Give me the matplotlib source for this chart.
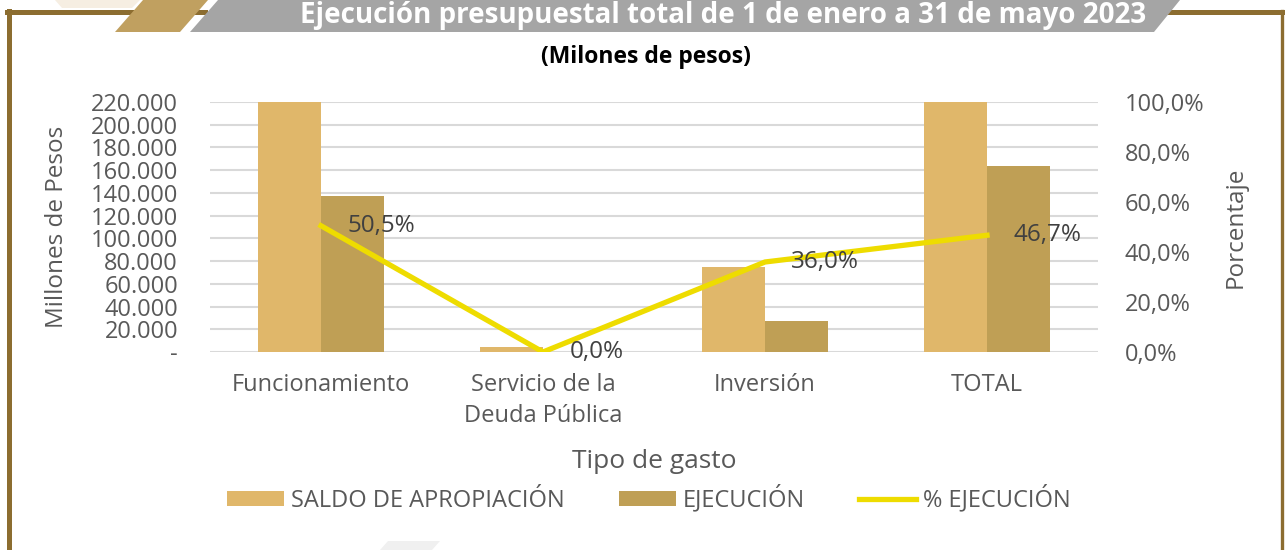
import matplotlib.pyplot as plt
import matplotlib.ticker as mticker
from matplotlib.patches import Polygon, Patch
from matplotlib.lines import Line2D

plt.rcParams['font.family'] = ['Open Sans', 'DejaVu Sans']

categorias = ['Funcionamiento', 'Servicio de la\nDeuda Pública', 'Inversión', 'TOTAL']
saldo_apropiacion = [271300, 4100, 75000, 350400]
ejecucion = [137000, 0, 26900, 164000]
pct_ejecucion = [0.505, 0.0, 0.360, 0.467]
pct_labels = ['50,5%', '0,0%', '36,0%', '46,7%']

C_SALDO = '#E0B76A'
C_EJEC = '#BF9F55'
C_LINE = '#EEDC00'
C_TEXT = '#595959'
C_FRAME = '#8C6D30'

W, H = 1285, 550
fig = plt.figure(figsize=(W / 100, H / 100), dpi=100)


def fx(x):
    return x / W


def fy(y):
    return 1 - y / H


def poly(pts, color, z=1):
    fig.add_artist(Polygon([(fx(a), fy(b)) for a, b in pts], closed=True,
                           transform=fig.transFigure, facecolor=color,
                           edgecolor='none', zorder=z))


# ── frame & banner decoration ──
for xs, ys, lw in [([9, 9], [11, 550], 3.6), ([7, 205], [12, 12], 3.6),
                   ([1165, 1283], [12, 12], 3.6), ([1282, 1282], [11, 550], 2.4)]:
    fig.add_artist(Line2D([fx(v) for v in xs], [fy(v) for v in ys],
                          transform=fig.transFigure, color=C_FRAME, lw=lw, zorder=1))
poly([(55, 0), (140, 0), (132, 8), (62, 8)], '#F6EEE2', 0)
poly([(115, 32), (180, 32), (208, 0), (143, 0)], '#C0A060', 2)
poly([(190, 32), (1154, 32), (1180, 0), (218, 0)], '#A5A5A5', 2)
poly([(380, 550), (432, 550), (440, 541), (388, 541)], '#F0F0F0', 0)
fig.text(fx(723), fy(23), 'Ejecución presupuestal total de 1 de enero a 31 de mayo 2023',
         ha='center', va='baseline', color='white', fontsize=20, fontweight='bold', zorder=3)
fig.text(fx(646), fy(57), '(Milones de pesos)', ha='center', va='center',
         color='black', fontsize=16.5, fontweight='bold')

# ── chart ──
ax = fig.add_axes([fx(210), fy(352), 888 / W, 250 / H])
x = list(range(len(categorias)))
w = 0.285
ax.bar([i - w / 2 for i in x], saldo_apropiacion, w, color=C_SALDO, zorder=2)
ax.bar([i + w / 2 for i in x], ejecucion, w, color=C_EJEC, zorder=2)
ax.set_xlim(-0.5, 3.5)
ax.set_ylim(0, 220000)
ax.yaxis.set_major_locator(mticker.MultipleLocator(20000))
ax.yaxis.set_major_formatter(mticker.FuncFormatter(
    lambda v, p: '-' if v == 0 else f'{v:,.0f}'.replace(',', '.')))
ax.grid(axis='y', color='#D9D9D9', lw=1.5, zorder=0)
ax.set_axisbelow(True)
for s in ax.spines.values():
    s.set_visible(False)
ax.set_xticks(x)
ax.set_xticklabels(categorias, linespacing=1.4)
ax.tick_params(axis='both', length=0, labelsize=17, labelcolor=C_TEXT)
ax.tick_params(axis='y', pad=23)
ax.tick_params(axis='x', pad=15)
ax.set_ylabel('Millones de Pesos', fontsize=17.5, color=C_TEXT)
ax.yaxis.set_label_coords(-0.159, 0.5)
ax.set_xlabel('Tipo de gasto', fontsize=19, color=C_TEXT)
ax.xaxis.set_label_coords(0.5, -0.39)

ax2 = ax.twinx()
ax2.plot(x, pct_ejecucion, color=C_LINE, lw=3.8, solid_joinstyle='round', zorder=3)
for xi, yi, lab in zip(x, pct_ejecucion, pct_labels):
    ax2.annotate(lab, xy=(xi, yi), xytext=(19, 0), textcoords='offset points',
                 ha='left', va='center', fontsize=17.5, color='#404040')
ax2.set_ylim(0, 1)
ax2.set_xlim(-0.5, 3.5)
ax2.yaxis.set_major_locator(mticker.MultipleLocator(0.2))
ax2.yaxis.set_major_formatter(mticker.FuncFormatter(
    lambda v, p: f'{v * 100:.1f}%'.replace('.', ',')))
for s in ax2.spines.values():
    s.set_visible(False)
ax2.tick_params(axis='y', length=0, labelsize=17, labelcolor=C_TEXT, pad=19)
ax2.set_ylabel('Porcentaje', fontsize=17.5, color=C_TEXT)
ax2.yaxis.set_label_coords(1.142, 0.5)

handles = [Patch(facecolor=C_SALDO, label='SALDO DE APROPIACIÓN'),
           Patch(facecolor=C_EJEC, label='EJECUCIÓN'),
           Line2D([0], [0], color=C_LINE, lw=3.8, label='% EJECUCIÓN')]
leg = fig.legend(handles=handles, loc='center', bbox_to_anchor=(fx(649), fy(499)),
                 ncol=3, frameon=False, fontsize=17, handlelength=2.4, handleheight=0.65,
                 handletextpad=0.3, columnspacing=2.3)
for t in leg.get_texts():
    t.set_color(C_TEXT)

fig.savefig('out.png', dpi=100)
